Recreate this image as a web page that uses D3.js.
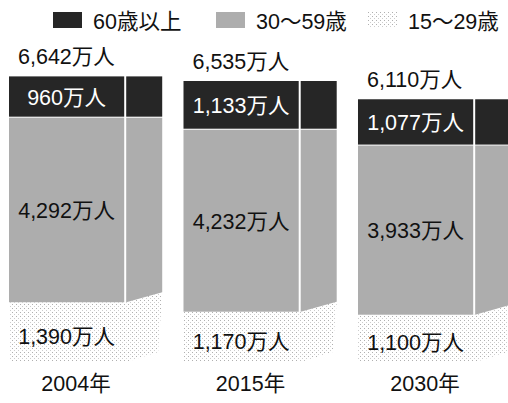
<!DOCTYPE html>
<html lang="ja">
<head>
<meta charset="utf-8">
<script src="https://cdn.jsdelivr.net/npm/d3@7"></script>
<style>
  html, body { margin: 0; padding: 0; background: #fff; }
  svg { display: block; }
  text { font-family: "Liberation Sans", "Noto Sans CJK JP", sans-serif; }
</style>
</head>
<body>
<div id="chart"></div>
<script>
// 年齢層別の人口（万人）
const years  = ["2004年", "2015年", "2030年"];
const totals = [6642, 6535, 6110];
const age60  = [960, 1133, 1077];   // 60歳以上
const age30  = [4292, 4232, 3933];  // 30〜59歳
const age15  = [1390, 1170, 1100];  // 15〜29歳
const legendLabels = ["60歳以上", "30〜59歳", "15〜29歳"];

const W = 508, H = 403;
const FS = 21.5;
const svg = d3.select("#chart").append("svg")
  .attr("width", W).attr("height", H);

// 塗りパターン
const defs = svg.append("defs");
const dots = defs.append("pattern")
  .attr("id", "dots").attr("patternUnits", "userSpaceOnUse")
  .attr("width", 4).attr("height", 4);
dots.append("rect").attr("width", 4).attr("height", 4).attr("fill", "#fff");
dots.append("rect").attr("x", 0).attr("y", 0).attr("width", 1).attr("height", 1).attr("fill", "#b0b0b0");
dots.append("rect").attr("x", 2).attr("y", 2).attr("width", 1).attr("height", 1).attr("fill", "#cdcdcd");

const fills = ["#262626", "#adadad", "url(#dots)"];

// スケール
const x = d3.scaleBand().domain(years).range([9, 511.2])
  .paddingInner(0.122).paddingOuter(0);
const y = d3.scaleLinear().domain([0, 7000]).range([362, 61]);

const band = x.bandwidth();
const sideW = 36, gap = 2;
const frontW = band - sideW - gap;
const slant = 10;
const fmt = d3.format(",");

const rows = years.map((yr, i) => ({
  year: yr, total: totals[i], a60: age60[i], a30: age30[i], a15: age15[i]
}));

const g = svg.append("g");

rows.forEach(d => {
  const x0 = x(d.year);
  const xs = x0 + frontW + gap, xe = x0 + band;
  const yBase = y(0);
  const y15 = y(d.a15);
  const y30 = y(d.a15 + d.a30);
  const yTop = y(d.a15 + d.a30 + d.a60);
  const cx = x0 + frontW / 2;

  // 15〜29歳（前面・側面）
  g.append("rect").attr("x", x0).attr("y", y15)
    .attr("width", frontW + gap).attr("height", yBase - y15)
    .attr("fill", fills[2]);
  g.append("path")
    .attr("d", d3.line()([[xs, y15], [xe, y15 - slant], [xe - 4, yBase - slant], [xs, yBase]]) + "Z")
    .attr("fill", fills[2]);

  // 30〜59歳
  g.append("rect").attr("x", x0).attr("y", y30)
    .attr("width", frontW).attr("height", y15 - y30)
    .attr("fill", fills[1]);
  g.append("path")
    .attr("d", d3.line()([[xs, y30], [xe, y30], [xe, y15 - slant], [xs, y15]]) + "Z")
    .attr("fill", fills[1]);

  // 60歳以上
  g.append("rect").attr("x", x0).attr("y", yTop)
    .attr("width", frontW).attr("height", y30 - yTop - 1)
    .attr("fill", fills[0]);
  g.append("rect").attr("x", xs).attr("y", yTop)
    .attr("width", sideW).attr("height", y30 - yTop - 1)
    .attr("fill", fills[0]);

  // ラベル
  g.append("text").attr("x", x0 + 9).attr("y", yTop - 12)
    .attr("font-size", FS).attr("fill", "#111")
    .text(fmt(d.total) + "万人");
  g.append("text").attr("x", cx).attr("y", (yTop + y30) / 2 + 8)
    .attr("text-anchor", "middle").attr("font-size", FS).attr("fill", "#fff")
    .text(fmt(d.a60) + "万人");
  g.append("text").attr("x", cx).attr("y", (y30 + y15) / 2 + 8)
    .attr("text-anchor", "middle").attr("font-size", FS).attr("fill", "#111")
    .text(fmt(d.a30) + "万人");
  g.append("text").attr("x", cx).attr("y", (y15 + yBase) / 2 + 12)
    .attr("text-anchor", "middle").attr("font-size", FS).attr("fill", "#111")
    .text(fmt(d.a15) + "万人");
  g.append("text").attr("x", x0 + 67).attr("y", 391)
    .attr("text-anchor", "middle").attr("font-size", FS).attr("fill", "#111")
    .text(d.year);
});

// 凡例
const legendX = [53, 216, 368];
const leg = svg.append("g");
legendLabels.forEach((lab, i) => {
  leg.append("rect").attr("x", legendX[i]).attr("y", 12)
    .attr("width", 29).attr("height", 16).attr("fill", fills[i]);
  leg.append("text").attr("x", legendX[i] + 40).attr("y", 29)
    .attr("font-size", FS).attr("fill", "#111").text(lab);
});
</script>
</body>
</html>
